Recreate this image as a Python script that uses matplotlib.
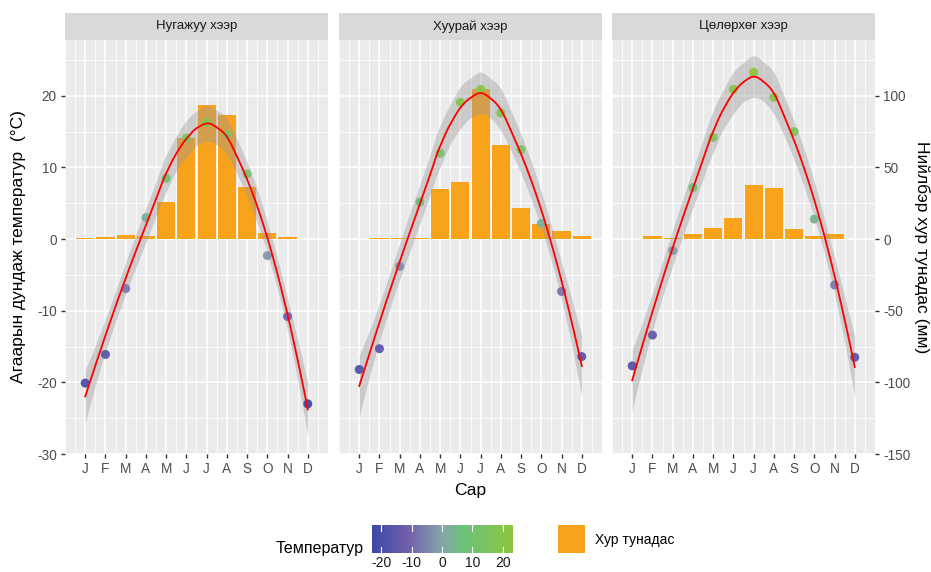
import numpy as np
import matplotlib
matplotlib.use("Agg")
import matplotlib.pyplot as plt
from matplotlib.colors import LinearSegmentedColormap, Normalize

plt.rcParams['font.family'] = ['Liberation Sans', 'DejaVu Sans']
plt.rcParams['axes.unicode_minus'] = False

# ---------------- data ----------------
months = [1, 2, 3, 4, 5, 6, 7, 8, 9, 10, 11, 12]
month_labels = ["J", "F", "M", "A", "M", "J", "J", "A", "S", "O", "N", "D"]
panel_titles = ["Нугажуу хээр", "Хуурай хээр", "Цөлөрхөг хээр"]

temp_nugajuu = [-20.1, -16.1, -6.9, 3.0, 8.5, 14.1, 16.3, 14.6, 9.1, -2.3, -10.8, -23.0]
temp_khuurai = [-18.2, -15.3, -3.8, 5.2, 12.0, 19.1, 20.9, 17.6, 12.5, 2.2, -7.3, -16.4]
temp_tsolorkhog = [-17.7, -13.4, -1.6, 7.2, 14.2, 20.9, 23.3, 19.8, 15.0, 2.8, -6.4, -16.5]

precip_nugajuu = [0.7, 1.6, 2.6, 2.5, 25.6, 70.4, 93.5, 86.7, 36.5, 4.2, 1.4, 0.3]
precip_khuurai = [0.3, 0.9, 0.5, 0.7, 34.9, 40.2, 104.6, 65.6, 21.6, 10.5, 5.8, 1.9]
precip_tsolorkhog = [0.3, 2.3, 0.9, 3.5, 8.1, 14.4, 38.1, 36.0, 7.4, 2.3, 3.9, 0.3]

temps = [temp_nugajuu, temp_khuurai, temp_tsolorkhog]
precips = [precip_nugajuu, precip_khuurai, precip_tsolorkhog]

PRECIP_SCALE = 5.0  # secondary axis: mm = °C * 5

temp_ticks = [-30, -20, -10, 0, 10, 20]
precip_ticks = [-150, -100, -50, 0, 50, 100]
cbar_ticks = [-20, -10, 0, 10, 20]


# ---------------- loess (like ggplot geom_smooth) ----------------
def loess_fit(x, y, xs, span=0.75, deg=2):
    x = np.asarray(x, float)
    y = np.asarray(y, float)
    n = len(x)
    q = int(np.floor(n * span))

    def row(x0):
        d = np.abs(x - x0)
        h = np.sort(d)[q - 1] * 1.0001
        w = np.clip(1 - (d / h) ** 3, 0, None) ** 3
        X = np.vander(x - x0, deg + 1, increasing=True)
        XtW = X.T * w
        A = np.linalg.pinv(XtW @ X) @ XtW
        return A[0]

    L = np.array([row(xi) for xi in x])
    fitted = L @ y
    IL = np.eye(n) - L
    M = IL.T @ IL
    d1 = np.trace(M)
    d2 = np.trace(M @ M)
    rss = np.sum((y - fitted) ** 2)
    sigma = np.sqrt(rss / d1)
    Ls = np.array([row(x0) for x0 in xs])
    ys = Ls @ y
    se = sigma * np.sqrt(np.sum(Ls ** 2, axis=1))
    df = d1 ** 2 / d2
    z = 1.959964
    t = z + (z ** 3 + z) / (4 * df) + (5 * z ** 5 + 16 * z ** 3 + 3 * z) / (96 * df ** 2)
    return ys, ys - t * se, ys + t * se


# ---------------- colours ----------------
all_t = np.concatenate([np.asarray(t) for t in temps])
tmin, tmax = all_t.min(), all_t.max()
stops = [(-23.0, '#3b4ba7'), (-11.0, '#7360ad'), (0.0, '#86a6aa'), (7.0, '#6cc27b'), (23.3, '#8dc63f')]
cmap = LinearSegmentedColormap.from_list(
    'tmp', [((v - tmin) / (tmax - tmin), c) for v, c in stops])
norm = Normalize(tmin, tmax)

BAR_COL = '#F9A21B'
PANEL_BG = '#EBEBEB'
STRIP_BG = '#D9D9D9'
TXT = '#4D4D4D'

# ---------------- figure ----------------
W, H = 931, 572
fig = plt.figure(figsize=(W / 100, H / 100), dpi=100)


def fx(px):
    return px / W


def fy(py):
    return 1 - py / H


top, bottom = 40, 454
lefts = [65, 339, 612]
width = 263
ylo, yhi = -30.0, 27.8

for i in range(3):
    l = lefts[i]
    ax = fig.add_axes([fx(l), fy(bottom), fx(width), (bottom - top) / H])
    ax.set_facecolor(PANEL_BG)
    for s in ax.spines.values():
        s.set_visible(False)
    ax.set_xlim(0.0, 13.0)
    ax.set_ylim(ylo, yhi)
    ax.set_xticks(months)
    ax.set_xticks(np.arange(0, 13.01, 0.5), minor=True)
    ax.set_yticks(temp_ticks)
    ax.set_yticks(np.arange(-25, 28, 10), minor=True)
    ax.grid(which='major', color='white', lw=1.1)
    ax.grid(which='minor', color='white', lw=0.55)
    ax.set_axisbelow(True)
    ax.tick_params(which='minor', length=0)
    ax.tick_params(which='major', length=3, width=1.0, color='#333333',
                   labelcolor=TXT, labelsize=9.8, pad=3)
    ax.set_xticklabels(month_labels)
    if i == 0:
        ax.set_yticklabels([str(v) for v in temp_ticks])
    else:
        ax.tick_params(axis='y', which='major', length=0, labelleft=False)

    tvals = np.asarray(temps[i], float)
    pvals = np.asarray(precips[i], float)

    ax.bar(months, pvals / PRECIP_SCALE, width=0.9, color=BAR_COL, zorder=2)

    xs = np.linspace(1, 12, 200)
    fit, lo, hi = loess_fit(months, tvals, xs)
    ax.fill_between(xs, lo, hi, color='#999999', alpha=0.4, lw=0, zorder=3)
    ax.scatter(months, tvals, c=tvals, cmap=cmap, norm=norm, s=42,
               alpha=0.95, edgecolors='none', zorder=4)
    ax.plot(xs, fit, color='#FF0000', lw=1.3, zorder=5)

    if i == 2:
        sec = ax.secondary_yaxis('right', functions=(lambda v: v * PRECIP_SCALE,
                                                     lambda v: v / PRECIP_SCALE))
        sec.set_yticks(precip_ticks)
        sec.set_yticklabels([str(v) for v in precip_ticks])
        sec.tick_params(length=3, width=1.0, color='#333333', labelcolor=TXT,
                        labelsize=9.8, pad=3)
        for s in sec.spines.values():
            s.set_visible(False)

    # strip
    sax = fig.add_axes([fx(l), fy(top), fx(width), (top - 13) / H])
    sax.set_facecolor(STRIP_BG)
    sax.set_xticks([])
    sax.set_yticks([])
    for s in sax.spines.values():
        s.set_visible(False)
    sax.text(0.5, 0.5, panel_titles[i], ha='center', va='center',
             fontsize=9.5, color='#1A1A1A', transform=sax.transAxes)

# axis titles
fig.text(fx(470), fy(490), "Сар", ha='center', va='center', fontsize=12.5, color='black')
fig.text(fx(19), fy(247), "Агаарын дундаж температур  (°C)", rotation=90,
         ha='center', va='center', fontsize=12.5, color='black')
fig.text(fx(922), fy(247), "Нийлбэр хур тунадас (мм)", rotation=270,
         ha='center', va='center', fontsize=12.5, color='black')

# legend: colour bar
cax = fig.add_axes([fx(372), fy(553), fx(141), 28 / H])
grad = np.linspace(tmin, tmax, 256)
cax.imshow(grad[np.newaxis, :], aspect='auto', cmap=cmap, norm=norm,
           extent=[tmin, tmax, 0, 1])
cax.set_xlim(tmin, tmax)
cax.set_ylim(0, 1)
for s in cax.spines.values():
    s.set_visible(False)
cax.set_yticks([])
cax.set_xticks(cbar_ticks)
cax.set_xticklabels([str(v) for v in cbar_ticks])
cax.tick_params(axis='x', length=0, labelsize=10, labelcolor='#1A1A1A', pad=2)
for v in cbar_ticks:
    cax.plot([v, v], [0, 0.2], color='white', lw=0.8)
    cax.plot([v, v], [0.8, 1], color='white', lw=0.8)
fig.text(fx(364), fy(549), "Температур", ha='right', va='center', fontsize=11.5, color='black')

# legend: precipitation key
kax = fig.add_axes([fx(558), fy(553), fx(27), 28 / H])
kax.set_xlim(0, 1)
kax.set_ylim(0, 1)
kax.axis('off')
kax.add_patch(plt.Rectangle((0, 0), 1, 1, color=BAR_COL))
fig.text(fx(595), fy(540), "Хур тунадас", ha='left', va='center', fontsize=10, color='black')

fig.savefig("out.png", dpi=100)
